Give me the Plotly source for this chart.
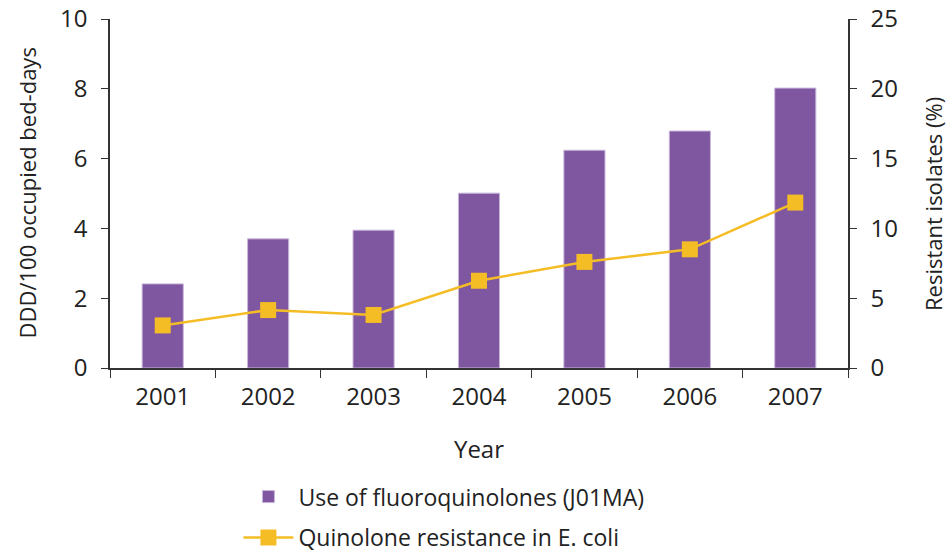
import plotly.graph_objects as go

years = ["2001", "2002", "2003", "2004", "2005", "2006", "2007"]
use_ddd = [2.41, 3.70, 3.95, 5.01, 6.24, 6.79, 8.02]
resistance_pct = [3.05, 4.15, 3.8, 6.25, 7.6, 8.5, 11.85]

bar_name = "Use of fluoroquinolones (J01MA)"
line_name = "Quinolone resistance in E. coli"
y1_title = "DDD/100 occupied bed-days"
y2_title = "Resistant isolates (%)"

FONT = "Open Sans"
AX = "#333333"
TXT = "#222222"

fig = go.Figure()
fig.add_trace(go.Bar(
    x=years, y=use_ddd, name=bar_name, legendgroup="a",
    marker=dict(color="#7f56a0", line=dict(color="#c9b6da", width=1)),
    yaxis="y",
))
fig.add_trace(go.Scatter(
    x=years, y=resistance_pct, name=line_name, mode="lines+markers", legendgroup="b",
    line=dict(color="#f4bd26", width=2.5),
    marker=dict(symbol="square", size=16, color="#f4bd26"),
    yaxis="y2",
))

fig.add_annotation(text=y1_title, xref="paper", yref="paper", x=-0.1125, y=0.503,
                   xanchor="center", yanchor="middle", textangle=-90, showarrow=False,
                   font=dict(size=22, color=TXT))
fig.add_annotation(text=y2_title, xref="paper", yref="paper", x=1.1152, y=0.47,
                   xanchor="center", yanchor="middle", textangle=-90, showarrow=False,
                   font=dict(size=22, color=TXT))

fig.update_layout(
    width=951, height=554,
    margin=dict(l=110, r=103, t=19, b=186, autoexpand=False),
    plot_bgcolor="white", paper_bgcolor="white",
    font=dict(family=FONT, size=24, color=TXT),
    bargap=0.61,
    showlegend=True,
    legend=dict(
        orientation="v", x=0.174, xanchor="left", y=-0.307, yanchor="top",
        font=dict(size=23), tracegroupgap=8, itemwidth=50,
        traceorder="grouped", bgcolor="rgba(0,0,0,0)",
    ),
    xaxis=dict(
        type="category", showline=True, linecolor=AX, linewidth=1.5,
        ticks="outside", ticklen=8, tickcolor=AX, tickson="boundaries",
        ticklabelstandoff=6, ticklabeloverflow="allow",
        showgrid=False, zeroline=False, automargin=False,
        title=dict(text="Year", standoff=31, font=dict(size=24)),
    ),
    yaxis=dict(
        range=[0, 10], dtick=2, showline=True, linecolor=AX, linewidth=1.5,
        ticks="outside", ticklen=7, tickcolor=AX, showgrid=False, zeroline=False,
        ticklabelstandoff=9, automargin=False, ticklabeloverflow="allow",
    ),
    yaxis2=dict(
        range=[0, 25], dtick=5, overlaying="y", side="right",
        showline=True, linecolor=AX, linewidth=1.5,
        ticks="outside", ticklen=7, tickcolor=AX, showgrid=False, zeroline=False,
        ticklabelstandoff=9, automargin=False, ticklabeloverflow="allow",
    ),
)

fig.write_html(
    "out.html",
    config={"displayModeBar": False},
    post_script="document.body.style.margin='0px';",
)
